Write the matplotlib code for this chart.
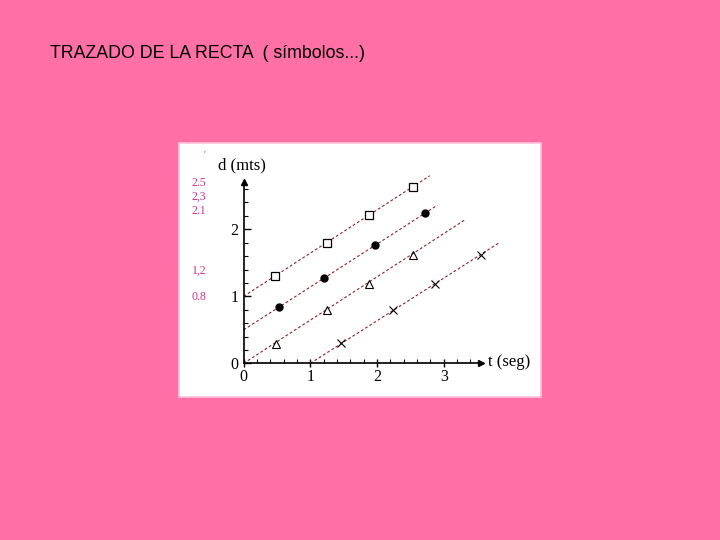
import matplotlib
matplotlib.use("Agg")
import matplotlib.pyplot as plt
from matplotlib.patches import Rectangle
import numpy as np

# ---- data ----
sq_t = [0.475, 1.245, 1.875, 2.545]
sq_d = [1.31, 1.79, 2.21, 2.63]
ci_t = [0.525, 1.205, 1.975, 2.715]
ci_d = [0.846, 1.27, 1.77, 2.24]
tr_t = [0.48, 1.245, 1.875, 2.54]
tr_d = [0.29, 0.79, 1.19, 1.62]
cr_t = [1.455, 2.245, 2.865, 3.555]
cr_d = [0.30, 0.79, 1.19, 1.61]
line_t = [[0, 2.79], [0, 2.905], [0, 3.315], [1, 3.815]]
line_d = [[1, 2.80], [0.5, 2.36], [0, 2.14], [0, 1.79]]
side_labels = ["2.5", "2,3", "2.1", "1,2", "0.8"]
side_y_px = [182.5, 196.5, 210.5, 270.5, 296.5]
major_ticks = [0, 1, 2, 3]

W, H = 720, 540
fig = plt.figure(figsize=(7.2, 5.4), dpi=100)
fig.patch.set_facecolor("#FF70A6")

# white panel
fig.patches.append(Rectangle((179 / W, 1 - 397 / H), (541 - 179) / W, (397 - 143) / H,
                             transform=fig.transFigure, facecolor="white",
                             edgecolor="#FFC0D8", lw=1.2, zorder=-5))

fig.text(50 / W, 1 - 53 / H, "TRAZADO DE LA RECTA  ( símbolos...)",
         family="Liberation Sans", fontsize=12.8, va="center", ha="left")

ox, oy, ux, uy = 243.7, 363.3, 66.7, 67.0
xmax, ymax = 3.9, 2.85
ax = fig.add_axes([ox / W, 1 - oy / H, xmax * ux / W, ymax * uy / H])
ax.set_zorder(2)
ax.set_facecolor("none")
ax.set_xlim(0, xmax)
ax.set_ylim(0, ymax)

lc = "#8B2232"
for lt, ld in zip(line_t, line_d):
    ax.plot(lt, ld, color=lc, lw=0.8, ls=(0, (2.5, 2)), clip_on=False)

ax.plot(sq_t, sq_d, "s", ms=5.5, mfc="white", mec="black", mew=0.9, ls="none", clip_on=False)
ax.plot(ci_t, ci_d, "o", ms=5, color="black", ls="none", clip_on=False)
ax.plot(tr_t, tr_d, "^", ms=5.5, mfc="none", mec="black", mew=0.8, ls="none", clip_on=False)
ax.plot(cr_t, cr_d, "x", ms=5.5, color="black", mew=0.8, ls="none", clip_on=False)

for s in ["top", "right"]:
    ax.spines[s].set_visible(False)
ax.spines["left"].set_bounds(0, 2.71)
ax.spines["bottom"].set_bounds(0, 3.56)
ax.spines["left"].set_linewidth(1.2)
ax.spines["bottom"].set_linewidth(1.2)
ax.plot([3.56], [0], marker=">", color="black", ms=4, clip_on=False)
ax.plot([0], [2.71], marker="^", color="black", ms=4, clip_on=False)

ax.set_xticks(major_ticks)
ax.set_xticklabels([str(v) for v in major_ticks], family="Liberation Serif", fontsize=11.5)
ax.set_xticks(np.arange(0.2, 3.5, 0.2), minor=True)
ax.set_yticks([0, 1, 2])
ax.set_yticklabels(["0", "1", "2"], family="Liberation Serif", fontsize=11.5)
ax.set_yticks(np.arange(0.2, 2.7, 0.2), minor=True)
ax.tick_params(axis="x", which="major", direction="inout", length=6, width=1, pad=1)
ax.tick_params(axis="x", which="minor", direction="in", length=3, width=0.8)
ax.tick_params(axis="y", which="major", direction="in", length=5, width=1, pad=4)
ax.tick_params(axis="y", which="minor", direction="in", length=3, width=0.8)

fig.text(218 / W, 1 - 165 / H, "d (mts)", family="Liberation Serif", fontsize=12,
         ha="left", va="center")
fig.text(488 / W, 1 - 362 / H, "t (seg)", family="Liberation Serif", fontsize=12,
         ha="left", va="center")

for lab, yp in zip(side_labels, side_y_px):
    fig.text(192 / W, 1 - yp / H, lab, family="Liberation Serif", fontsize=8.5,
             color="#C8368C", ha="left", va="center")
fig.text(204 / W, 1 - 155 / H, "'", family="Liberation Serif", fontsize=7,
         color="#C8368C", ha="left", va="center")

fig.savefig("out.png", dpi=100, facecolor=fig.get_facecolor())
